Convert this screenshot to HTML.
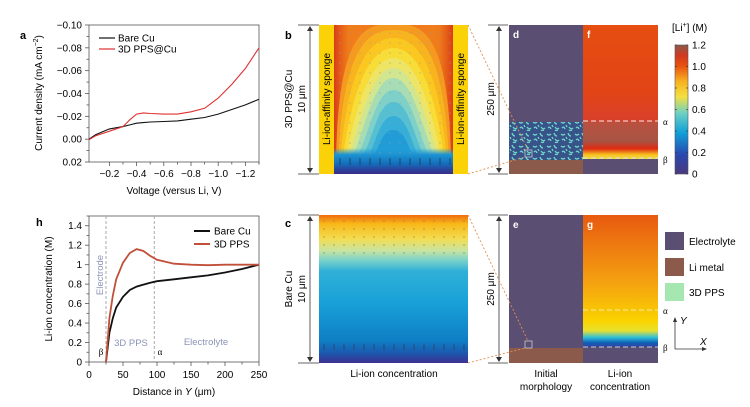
<!DOCTYPE html>
<html><head><meta charset="utf-8">
<style>
html,body{margin:0;padding:0;background:#fff;}
svg{display:block;font-family:"Liberation Sans",Arial,sans-serif;}
</style></head>
<body>
<svg id="fig" width="750" height="407" viewBox="0 0 750 407" xmlns="http://www.w3.org/2000/svg">
<defs>
  <linearGradient id="cbar" x1="0" y1="1" x2="0" y2="0">
    <stop offset="0" stop-color="#4a3a7c"/>
    <stop offset="0.15" stop-color="#2a48b0"/>
    <stop offset="0.32" stop-color="#10a0d8"/>
    <stop offset="0.47" stop-color="#6cd0c4"/>
    <stop offset="0.6" stop-color="#f4e040"/>
    <stop offset="0.72" stop-color="#f8b020"/>
    <stop offset="0.84" stop-color="#e85010"/>
    <stop offset="0.92" stop-color="#d03a20"/>
    <stop offset="1" stop-color="#8b5a4a"/>
  </linearGradient>
  <linearGradient id="gradF" x1="0" y1="0" x2="0" y2="1">
    <stop offset="0" stop-color="#e54e10"/>
    <stop offset="0.45" stop-color="#e24416"/>
    <stop offset="0.64" stop-color="#d8402a"/>
    <stop offset="0.66" stop-color="#b85040"/>
    <stop offset="0.78" stop-color="#a85444"/>
    <stop offset="0.83" stop-color="#e02a10"/>
    <stop offset="0.87" stop-color="#f6c020"/>
    <stop offset="0.9" stop-color="#f0e040"/>
    <stop offset="0.93" stop-color="#40c0d8"/>
    <stop offset="0.96" stop-color="#1a6ac0"/>
    <stop offset="0.975" stop-color="#3a3a9a"/>
    <stop offset="1" stop-color="#3a3a9a"/>
  </linearGradient>
  <linearGradient id="gradG" x1="0" y1="0" x2="0" y2="1">
    <stop offset="0" stop-color="#e85a10"/>
    <stop offset="0.5" stop-color="#f4a010"/>
    <stop offset="0.8" stop-color="#fad400"/>
    <stop offset="0.87" stop-color="#e8e030"/>
    <stop offset="0.92" stop-color="#30c0d8"/>
    <stop offset="0.96" stop-color="#1060b8"/>
    <stop offset="1" stop-color="#3a3a9a"/>
  </linearGradient>
  <linearGradient id="gradC" x1="0" y1="0" x2="0" y2="1">
    <stop offset="0" stop-color="#ef6a10"/>
    <stop offset="0.06" stop-color="#f8b818"/>
    <stop offset="0.16" stop-color="#f4dc50"/>
    <stop offset="0.24" stop-color="#c8e4a0"/>
    <stop offset="0.3" stop-color="#80d4c8"/>
    <stop offset="0.38" stop-color="#30b0d8"/>
    <stop offset="0.6" stop-color="#18a0d8"/>
    <stop offset="0.85" stop-color="#0f7ec4"/>
    <stop offset="0.93" stop-color="#1a5ab0"/>
    <stop offset="1" stop-color="#3e3090"/>
  </linearGradient>
  <linearGradient id="bottomB" x1="0" y1="0" x2="0" y2="1">
    <stop offset="0" stop-color="#229cd6" stop-opacity="0"/>
    <stop offset="0.25" stop-color="#1c94d2"/>
    <stop offset="0.6" stop-color="#1470bc"/>
    <stop offset="0.8" stop-color="#2848a0"/>
    <stop offset="1" stop-color="#3a2c88"/>
  </linearGradient>
  <linearGradient id="sideRed" x1="0" y1="0" x2="1" y2="0">
    <stop offset="0" stop-color="#d83a18" stop-opacity="1"/>
    <stop offset="0.12" stop-color="#ee7a18" stop-opacity="0.6"/>
    <stop offset="0.25" stop-color="#f09020" stop-opacity="0"/>
    <stop offset="0.75" stop-color="#f09020" stop-opacity="0"/>
    <stop offset="0.88" stop-color="#ee7a18" stop-opacity="0.6"/>
    <stop offset="1" stop-color="#d83a18" stop-opacity="1"/>
  </linearGradient>
  <pattern id="squig" width="14" height="12" patternUnits="userSpaceOnUse">
    <rect width="14" height="12" fill="#38528a"/>
    <path d="M1 2 q2 2 4 0 M8 1 q1 3 3 3 M2 8 q2-2 3 1 M9 7 q2 3 4 1 M6 5 l1 2 M12 10 q-2 1-3 0" stroke="#6fd6c6" stroke-width="1.3" fill="none"/>
  </pattern>
  <clipPath id="clipB"><rect x="334" y="25" width="119" height="149"/></clipPath>
</defs>

<!-- ================= Panel a ================= -->
<g>
  <text x="20" y="39" font-size="11" font-weight="bold">a</text>
  <rect x="89" y="25" width="170" height="137" fill="none" stroke="#555" stroke-width="0.8"/>
  <g id="aTicks"></g>
  <text transform="translate(42,93) rotate(-90)" text-anchor="middle" font-size="10">Current density (mA cm<tspan dy="-4" font-size="7">−2</tspan><tspan dy="4">)</tspan></text>
  <text x="174" y="194" text-anchor="middle" font-size="10">Voltage (versus Li, V)</text>
  <line x1="99" y1="38" x2="115" y2="38" stroke="#111" stroke-width="1.2"/>
  <text x="118" y="41.5" font-size="10">Bare Cu</text>
  <line x1="99" y1="49" x2="115" y2="49" stroke="#e03030" stroke-width="1.2"/>
  <text x="118" y="52.5" font-size="10">3D PPS@Cu</text>
  <g id="aLines"></g>
</g>

<!-- ================= Panel h ================= -->
<g>
  <text x="36" y="226" font-size="11" font-weight="bold">h</text>
  <rect x="89" y="216" width="170" height="146" fill="none" stroke="#555" stroke-width="0.8"/>
  <g id="hTicks"></g>
  <text transform="translate(52,289) rotate(-90)" text-anchor="middle" font-size="10">Li-ion concentration (M)</text>
  <text x="174" y="395" text-anchor="middle" font-size="10">Distance in <tspan font-style="italic">Y</tspan> (μm)</text>
  <g id="hLines"></g>
  <text transform="translate(103,275) rotate(-90)" text-anchor="middle" font-size="9.5" fill="#8a94b8">Electrode</text>
  <text x="131" y="346" text-anchor="middle" font-size="9.5" fill="#8a94b8">3D PPS</text>
  <text x="206" y="345" text-anchor="middle" font-size="9.5" fill="#8a94b8">Electrolyte</text>
  <text x="101" y="355" text-anchor="middle" font-size="9" font-family="Liberation Serif,serif">β</text>
  <text x="160" y="355" text-anchor="middle" font-size="9" font-family="Liberation Serif,serif">α</text>
  <line x1="194" y1="231" x2="210" y2="231" stroke="#111" stroke-width="2"/>
  <text x="214" y="234.5" font-size="10">Bare Cu</text>
  <line x1="194" y1="244" x2="210" y2="244" stroke="#c0503a" stroke-width="2"/>
  <text x="214" y="247.5" font-size="10">3D PPS</text>
</g>

<!-- ================= Panel b ================= -->
<g>
  <text x="285" y="39" font-size="11" font-weight="bold">b</text>
  <rect x="319" y="25" width="15" height="149" fill="#fbd108"/>
  <rect x="453" y="25" width="15" height="149" fill="#fbd108"/>
  <g clip-path="url(#clipB)" id="contourB">
    <rect x="334" y="25" width="119" height="149" fill="#f07a1c"/>
  </g>
  <text transform="translate(330,99) rotate(-90)" text-anchor="middle" font-size="10">Li-ion-affinity sponge</text>
  <text transform="translate(464,99) rotate(-90)" text-anchor="middle" font-size="10">Li-ion-affinity sponge</text>
  <line x1="298" y1="25" x2="319" y2="25" stroke="#333" stroke-width="0.8"/>
  <line x1="298" y1="174" x2="319" y2="174" stroke="#333" stroke-width="0.8"/>
  <line x1="310" y1="27" x2="310" y2="172" stroke="#333" stroke-width="0.8"/>
  <path d="M307 31 L310 26 L313 31 Z M307 168 L310 173 L313 168 Z" fill="#333"/>
  <text transform="translate(292,99) rotate(-90)" text-anchor="middle" font-size="10">3D PPS@Cu</text>
  <text transform="translate(305,99) rotate(-90)" text-anchor="middle" font-size="10">10 μm</text>
</g>

<!-- ================= Panel c ================= -->
<g>
  <text x="285" y="227" font-size="11" font-weight="bold">c</text>
  <rect x="319" y="215" width="149" height="148" fill="url(#gradC)"/>
  <g id="arrowsC"></g>
  <line x1="298" y1="215" x2="319" y2="215" stroke="#333" stroke-width="0.8"/>
  <line x1="298" y1="363" x2="319" y2="363" stroke="#333" stroke-width="0.8"/>
  <line x1="310" y1="217" x2="310" y2="361" stroke="#333" stroke-width="0.8"/>
  <path d="M307 221 L310 216 L313 221 Z M307 357 L310 362 L313 357 Z" fill="#333"/>
  <text transform="translate(292,289) rotate(-90)" text-anchor="middle" font-size="10">Bare Cu</text>
  <text transform="translate(305,289) rotate(-90)" text-anchor="middle" font-size="10">10 μm</text>
  <text x="394" y="377" text-anchor="middle" font-size="10">Li-ion concentration</text>
</g>

<!-- ================= Panels d, f ================= -->
<g>
  <rect x="509" y="25" width="74" height="149" fill="#5a4e72"/>
  <rect x="509" y="122" width="74" height="38" fill="url(#squig)"/>
  <rect x="509" y="160" width="74" height="14" fill="#8b5a4a"/>
  <rect x="583" y="25" width="75" height="149" fill="url(#gradF)"/>
  <rect x="583" y="159" width="75" height="15" fill="#5a4e72"/>
  <line x1="583" y1="121" x2="658" y2="121" stroke="#eee" stroke-width="1" stroke-dasharray="5,3"/>
  <line x1="583" y1="158" x2="658" y2="158" stroke="#ddd" stroke-width="1" stroke-dasharray="5,3"/>
  <text x="663" y="125" font-size="9" font-family="Liberation Serif,serif">α</text>
  <text x="663" y="163" font-size="9" font-family="Liberation Serif,serif">β</text>
  <text x="513" y="38" font-size="10" font-weight="bold" fill="#fff">d</text>
  <text x="587" y="38" font-size="10" font-weight="bold" fill="#fff">f</text>
  <line x1="488" y1="25" x2="508" y2="25" stroke="#333" stroke-width="0.8"/>
  <line x1="488" y1="174" x2="508" y2="174" stroke="#333" stroke-width="0.8"/>
  <line x1="499" y1="27" x2="499" y2="172" stroke="#333" stroke-width="0.8"/>
  <path d="M496 31 L499 26 L502 31 Z M496 168 L499 173 L502 168 Z" fill="#333"/>
  <rect x="484" y="82" width="12" height="34" fill="#fff"/>
  <text transform="translate(494,99) rotate(-90)" text-anchor="middle" font-size="10">250 μm</text>
  <rect x="525" y="150" width="7" height="7" fill="none" stroke="#ccc" stroke-width="0.8"/>
  <line x1="468" y1="25" x2="528" y2="150" stroke="#e09050" stroke-width="0.9" stroke-dasharray="2,2"/>
  <line x1="468" y1="174" x2="525" y2="157" stroke="#e09050" stroke-width="0.9" stroke-dasharray="2,2"/>
</g>

<!-- colorbar -->
<g>
  <text x="672" y="31" font-size="10">[Li<tspan dy="-4" font-size="7">+</tspan><tspan dy="4">] (M)</tspan></text>
  <rect x="675" y="45" width="13" height="129" fill="url(#cbar)" stroke="#555" stroke-width="0.6"/>
  <g id="cbTicks"></g>
</g>

<!-- ================= Panels e, g ================= -->
<g>
  <rect x="509" y="215" width="74" height="133" fill="#5a4e72"/>
  <rect x="509" y="348" width="74" height="15" fill="#8b5a4a"/>
  <rect x="583" y="215" width="75" height="133" fill="url(#gradG)"/>
  <rect x="583" y="347" width="75" height="16" fill="#5a4e72"/>
  <line x1="583" y1="310" x2="658" y2="310" stroke="#f6e8a0" stroke-width="1" stroke-dasharray="5,3"/>
  <line x1="583" y1="347" x2="658" y2="347" stroke="#ccc" stroke-width="1" stroke-dasharray="5,3"/>
  <text x="663" y="314" font-size="9" font-family="Liberation Serif,serif">α</text>
  <text x="663" y="351" font-size="9" font-family="Liberation Serif,serif">β</text>
  <text x="513" y="228" font-size="10" font-weight="bold" fill="#fff">e</text>
  <text x="587" y="228" font-size="10" font-weight="bold" fill="#fff">g</text>
  <line x1="488" y1="215" x2="508" y2="215" stroke="#333" stroke-width="0.8"/>
  <line x1="488" y1="363" x2="508" y2="363" stroke="#333" stroke-width="0.8"/>
  <line x1="499" y1="217" x2="499" y2="361" stroke="#333" stroke-width="0.8"/>
  <path d="M496 221 L499 216 L502 221 Z M496 357 L499 362 L502 357 Z" fill="#333"/>
  <rect x="484" y="272" width="12" height="34" fill="#fff"/>
  <text transform="translate(494,289) rotate(-90)" text-anchor="middle" font-size="10">250 μm</text>
  <rect x="525" y="341" width="7" height="7" fill="none" stroke="#ccc" stroke-width="0.8"/>
  <line x1="468" y1="215" x2="528" y2="341" stroke="#e09050" stroke-width="0.9" stroke-dasharray="2,2"/>
  <line x1="468" y1="363" x2="525" y2="348" stroke="#e09050" stroke-width="0.9" stroke-dasharray="2,2"/>
  <text x="546" y="377" text-anchor="middle" font-size="10">Initial</text>
  <text x="546" y="390" text-anchor="middle" font-size="10">morphology</text>
  <text x="620" y="377" text-anchor="middle" font-size="10">Li-ion</text>
  <text x="620" y="390" text-anchor="middle" font-size="10">concentration</text>
</g>

<!-- legend e/g -->
<g>
  <rect x="665" y="232" width="19" height="18" fill="#5a4e72"/>
  <text x="689" y="245" font-size="10">Electrolyte</text>
  <rect x="665" y="258" width="19" height="18" fill="#8b5a4a"/>
  <text x="689" y="271" font-size="10">Li metal</text>
  <rect x="665" y="283" width="19" height="18" fill="#a6e6b0"/>
  <text x="689" y="296" font-size="10">3D PPS</text>
  <g>
    <line x1="675" y1="349" x2="705" y2="349" stroke="#333" stroke-width="0.8"/>
    <line x1="675" y1="349" x2="675" y2="319" stroke="#333" stroke-width="0.8"/>
    <path d="M673 322 L675 317 L677 322 Z M702 347 L707 349 L702 351 Z" fill="#333"/>
    <text x="680" y="324" font-size="10" font-style="italic">Y</text>
    <text x="700" y="345" font-size="10" font-style="italic">X</text>
  </g>
</g>
</svg>

<script>
const NS = "http://www.w3.org/2000/svg";
// ---- Panel a data ----
const aVoltage = [-0.05,-0.1,-0.2,-0.3,-0.35,-0.4,-0.45,-0.5,-0.6,-0.7,-0.8,-0.9,-1.0,-1.1,-1.2,-1.3];
const aBareCu  = [0.000,-0.004,-0.009,-0.011,-0.0125,-0.014,-0.0145,-0.015,-0.0155,-0.016,-0.0175,-0.019,-0.022,-0.026,-0.030,-0.035];
const aPPS     = [0.0005,-0.003,-0.007,-0.011,-0.017,-0.022,-0.023,-0.0225,-0.022,-0.022,-0.024,-0.027,-0.036,-0.048,-0.062,-0.080];
const aXTicks = [-0.2,-0.4,-0.6,-0.8,-1.0,-1.2];
const aXTickLabels = ["−0.2","−0.4","−0.6","−0.8","−1.0","−1.2"];
const aYTicks = [-0.10,-0.08,-0.06,-0.04,-0.02,0.00,0.02];
const aYTickLabels = ["−0.10","−0.08","−0.06","−0.04","−0.02","0.00","0.02"];
// ---- Panel h data ----
const hDist = [25,30,35,40,50,60,70,80,90,100,125,150,175,200,225,250];
const hBare = [0,0.30,0.45,0.56,0.67,0.74,0.775,0.795,0.815,0.83,0.85,0.87,0.89,0.92,0.955,1.0];
const hPPS  = [0,0.45,0.68,0.85,1.02,1.12,1.16,1.14,1.09,1.05,1.01,1.0,0.995,1.0,1.0,1.0];
const hXTicks = [0,50,100,150,200,250];
const hYTicks = [0,0.2,0.4,0.6,0.8,1,1.2,1.4];
const hYTickLabels = ["0","0.2","0.4","0.6","0.8","1","1.2","1.4"];
const hBoundaries = [25,96];
// ---- colorbar ----
const cbTicks = [0,0.2,0.4,0.6,0.8,1.0,1.2];
const cbTickLabels = ["0","0.2","0.4","0.6","0.8","1.0","1.2"];

function mk(tag, attrs, parent){ const e=document.createElementNS(NS,tag); for(const k in attrs) e.setAttribute(k,attrs[k]); parent.appendChild(e); return e; }

// Panel a axes
const aX = v => 89 + (v - (-0.05)) / (-1.3 - (-0.05)) * 170;
const aY = v => 162 - (v - 0.02) / (-0.10 - 0.02) * 137;
const aT = document.getElementById('aTicks');
aXTicks.forEach((t,i)=>{
  mk('line',{x1:aX(t),y1:162,x2:aX(t),y2:166,stroke:'#555','stroke-width':0.8},aT);
  const tx = mk('text',{x:aX(t),y:177,'text-anchor':'middle','font-size':10},aT); tx.textContent=aXTickLabels[i];
  
  
  const m = t - 0.1; if (aX(m) > 89) mk('line',{x1:aX(m),y1:162,x2:aX(m),y2:164.5,stroke:'#555','stroke-width':0.8},aT);
});
mk('line',{x1:aX(-1.3),y1:162,x2:aX(-1.3),y2:164.5,stroke:'#555','stroke-width':0.8},aT);
aYTicks.forEach((t,i)=>{
  mk('line',{x1:85,y1:aY(t),x2:89,y2:aY(t),stroke:'#555','stroke-width':0.8},aT);
  if (i < aYTicks.length-1) mk('line',{x1:86.5,y1:aY(t+0.01),x2:89,y2:aY(t+0.01),stroke:'#555','stroke-width':0.8},aT);
  const tx = mk('text',{x:82,y:aY(t)+3.5,'text-anchor':'end','font-size':10},aT); tx.textContent=aYTickLabels[i];
  
  
});
const aL = document.getElementById('aLines');
function poly(xs, ys, fx, fy){ return xs.map((x,i)=>(i?'L':'M')+fx(x).toFixed(1)+' '+fy(ys[i]).toFixed(1)).join(' '); }
const pa1 = mk('path',{d:poly(aVoltage,aBareCu,aX,aY),fill:'none',stroke:'#111','stroke-width':1.1},aL);


const pa2 = mk('path',{d:poly(aVoltage,aPPS,aX,aY),fill:'none',stroke:'#e03030','stroke-width':1.1},aL);



// Panel h axes
const hX = v => 89 + v / 250 * 170;
const hY = v => 362 - v / 1.5 * 146;
const hT = document.getElementById('hTicks');
hXTicks.forEach(t=>{
  mk('line',{x1:hX(t),y1:362,x2:hX(t),y2:366,stroke:'#555','stroke-width':0.8},hT);
  if (t<250) mk('line',{x1:hX(t+25),y1:362,x2:hX(t+25),y2:364.5,stroke:'#555','stroke-width':0.8},hT);
  const tx = mk('text',{x:hX(t),y:378,'text-anchor':'middle','font-size':10},hT); tx.textContent=String(t);
  
  
});
hYTicks.forEach((t,i)=>{
  mk('line',{x1:85,y1:hY(t),x2:89,y2:hY(t),stroke:'#555','stroke-width':0.8},hT);
  mk('line',{x1:86.5,y1:hY(t+0.1),x2:89,y2:hY(t+0.1),stroke:'#555','stroke-width':0.8},hT);
  const tx = mk('text',{x:82,y:hY(t)+3.5,'text-anchor':'end','font-size':10},hT); tx.textContent=hYTickLabels[i];
  
  
});
const hL = document.getElementById('hLines');
hBoundaries.forEach(b=>{
  const l = mk('line',{x1:hX(b),y1:216,x2:hX(b),y2:362,stroke:'#aaa','stroke-width':1,'stroke-dasharray':'3,2'},hL);
  
  
});
const ph1 = mk('path',{d:poly(hDist,hBare,hX,hY),fill:'none',stroke:'#111','stroke-width':1.8},hL);


const ph2 = mk('path',{d:poly(hDist,hPPS,hX,hY),fill:'none',stroke:'#c0503a','stroke-width':1.8},hL);



// colorbar ticks
const cbY = v => 174 - v / 1.2 * 129;
const cbT = document.getElementById('cbTicks');
cbTicks.forEach((t,i)=>{
  mk('line',{x1:675,y1:cbY(t),x2:677,y2:cbY(t),stroke:'#333','stroke-width':0.6},cbT);
  mk('line',{x1:686,y1:cbY(t),x2:688,y2:cbY(t),stroke:'#333','stroke-width':0.6},cbT);
  const tx = mk('text',{x:692,y:cbY(t)+3.5,'font-size':10},cbT); tx.textContent=cbTickLabels[i];
  
  
});

// Panel b contour (illustrative image)
const cb = document.getElementById('contourB');
mk('rect',{x:334,y:25,width:119,height:149,fill:'url(#sideRed)'},cb);
const levelColors = ['#f59a20','#f8b41e','#fac820','#f8dc38','#eee466','#d2e690','#a8dcb4','#7ed0c8','#56c0d2','#36aed8','#229cd6'];
const levelPeaks  = [24,30,38,48,58,68,78,90,102,116,130];
levelColors.forEach((c,i)=>{
  const f = i/(levelColors.length-1);
  const inset = 2 + i*1.6;
  const L=334+inset, R=453-inset, w=R-L, cx=(L+R)/2, P=levelPeaks[i], B=174;
  const a = 0.32*f, y1 = P + f*(B-P), b = 0.22;
  const d = `M${L} ${B} C${L+a*w} ${y1} ${cx-b*w} ${P} ${cx} ${P} C${cx+b*w} ${P} ${R-a*w} ${y1} ${R} ${B} Z`;
  mk('path',{d:d,fill:c},cb);
});
mk('rect',{x:334,y:148,width:119,height:26,fill:'url(#bottomB)'},cb);
for(let i=0;i<12;i++){ for(let j=0;j<13;j++){
  const x=340+i*10, y=32+j*10;
  mk('line',{x1:x,y1:y,x2:x,y2:y+2,stroke:'#999','stroke-width':0.5},cb);
}}
for(let i=0;i<12;i++){ const x=340+i*10; mk('line',{x1:x,y1:158,x2:x,y2:165,stroke:'#223','stroke-width':0.6},cb); }

// Panel c tick marks
const ac = document.getElementById('arrowsC');
for(let i=0;i<15;i++){ const x=324+i*10;
  for(let j=0;j<5;j++) mk('line',{x1:x,y1:220+j*8,x2:x,y2:222+j*8,stroke:'#8a7a50','stroke-width':0.6},ac);
  mk('line',{x1:x,y1:344,x2:x,y2:350,stroke:'#334','stroke-width':0.6},ac);
}
</script>
</body></html>
